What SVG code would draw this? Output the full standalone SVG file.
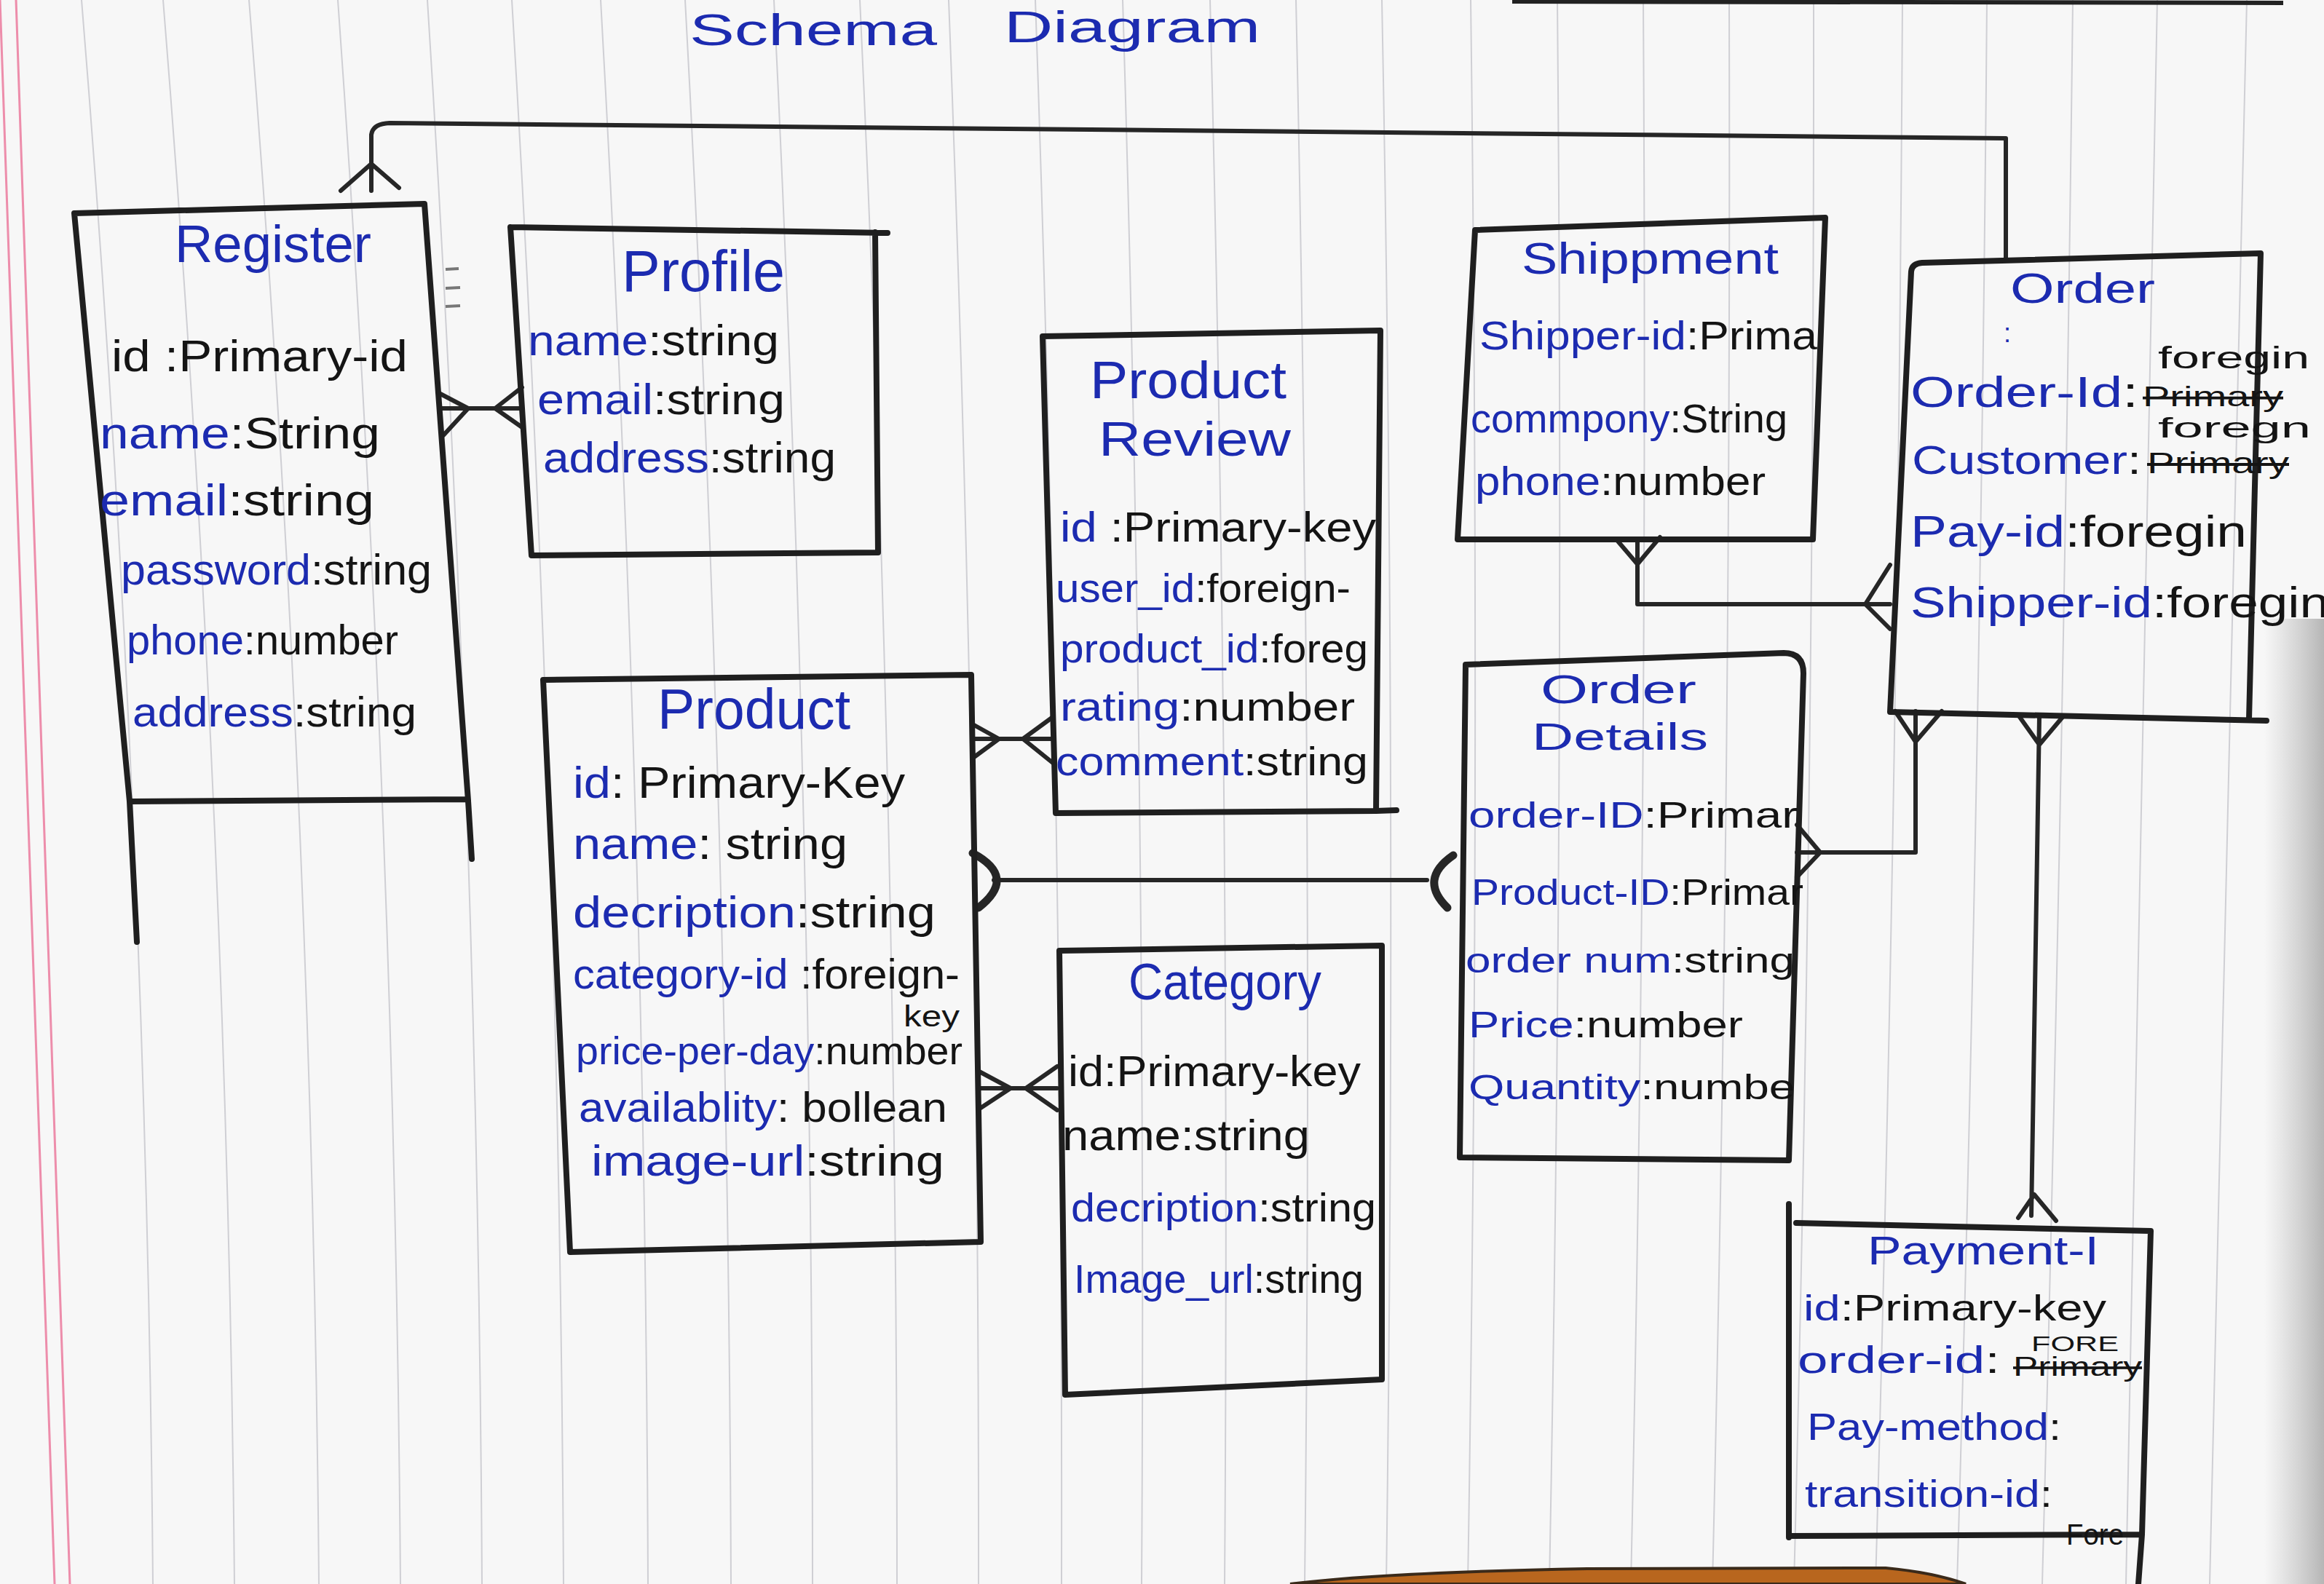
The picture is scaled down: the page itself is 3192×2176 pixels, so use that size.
<svg xmlns="http://www.w3.org/2000/svg" width="3192" height="2176" viewBox="0 0 3192 2176">
<defs>
<style>
.box{fill:none;stroke:#1f1f1f;stroke-width:8;stroke-linejoin:round;stroke-linecap:round}
.conn{fill:none;stroke:#262626;stroke-width:6;stroke-linecap:round;stroke-linejoin:round}
.bold{fill:none;stroke:#262626;stroke-width:11;stroke-linecap:round}
.grid{fill:none;stroke:#cfcfd4;stroke-width:2}
.pink{fill:none;stroke:#e8608a;stroke-width:3;opacity:0.7}
.t{font-family:"Liberation Sans",Arial,sans-serif;fill:#141414}
.b{fill:#1c2bb0}
.k{fill:#141414}
.strike{text-decoration:line-through}
</style>
<linearGradient id="shade" x1="0" y1="0" x2="1" y2="0">
<stop offset="0" stop-color="#9a9a9a" stop-opacity="0"/>
<stop offset="1" stop-color="#8a8a8a" stop-opacity="0.6"/>
</linearGradient>
</defs>
<rect width="3192" height="2176" fill="#f7f7f7"/>
<g id="paper">
<path class="grid" d="M112,0 Q201,1088 210,2176 M224,0 Q312,1088 322,2176 M342,0 Q429,1088 438,2176 M464,0 Q542,1088 550,2176 M587,0 Q656,1088 662,2176 M703,0 Q768,1088 774,2176 M825,0 Q886,1088 890,2176 M941,0 Q1000,1088 1004,2176 M1063,0 Q1116,1088 1116,2176 M1181,0 Q1232,1088 1232,2176 M1303,0 Q1345,1088 1344,2176 M1422,0 Q1460,1088 1458,2176 M1542,0 Q1575,1088 1568,2176 M1662,0 Q1690,1088 1682,2176 M1780,0 Q1804,1088 1792,2176 M1898,0 Q1919,1088 1904,2176 M2020,0 Q2034,1088 2016,2176 M2139,0 Q2149,1088 2128,2176 M2257,0 Q2264,1088 2240,2176 M2375,0 Q2378,1088 2352,2176 M2491,0 Q2492,1088 2464,2176 M2613,0 Q2607,1088 2576,2176 M2729,0 Q2720,1088 2688,2176 M2847,0 Q2834,1088 2805,2176 M2963,0 Q2946,1088 2920,2176 M3086,0 Q3062,1088 3035,2176"/>
<path class="pink" d="M0,0 L75,2176 M22,0 L96,2176"/>
<rect x="3110" y="850" width="82" height="1326" fill="url(#shade)"/>
<path d="M2077,2 L3136,4" stroke="#222" stroke-width="6" fill="none"/>
<path d="M1772,2176 Q1900,2160 2180,2155 L2590,2154 Q2655,2160 2700,2176 Z" fill="#b8661e" stroke="#3a2a1a" stroke-width="4"/>
<path d="M612,370 L630,369 M612,396 L632,395 M612,421 L632,420" stroke="#777" stroke-width="4" fill="none"/>
</g>
<g id="title">
<text class="t b" x="947" y="62" font-size="62" textLength="340" lengthAdjust="spacingAndGlyphs">Schema</text>
<text class="t b" x="1379" y="58" font-size="62" textLength="352" lengthAdjust="spacingAndGlyphs">Diagram</text>
</g>
<g id="connectors">
<path class="conn" d="M510,262 L510,185 Q512,170 535,169 L2755,190 L2755,357"/>
<path class="conn" d="M468,262 L510,225 L548,258"/>
<path class="conn" d="M605,561 L717,561 M601,539 L643,561 L609,598 M717,532 L680,561 L717,587"/>
<path class="conn" d="M1336,1015 L1446,1015 M1336,995 L1372,1015 L1338,1040 M1446,985 L1405,1015 L1446,1048"/>
<path class="conn" d="M1347,1495 L1452,1495 M1345,1472 L1388,1495 L1347,1522 M1452,1465 L1409,1495 L1452,1525"/>
<path class="conn" d="M1365,1209 L1960,1209"/>
<path class="bold" d="M1336,1172 Q1398,1205 1344,1247 M1996,1175 Q1948,1208 1988,1247"/>
<path class="conn" d="M2249,741 L2249,830 L2596,830 M2220,741 L2249,775 L2280,738 M2596,776 L2562,830 L2596,864"/>
<path class="conn" d="M2631,977 L2631,1171 L2468,1171 M2603,977 L2631,1019 L2667,977 M2468,1133 L2500,1171 L2468,1205"/>
<path class="conn" d="M2801,985 L2790,1670 M2774,985 L2801,1023 L2833,985 M2772,1673 L2794,1641 L2824,1677"/>
</g>
<g id="register">
<path class="box" d="M102,293 L583,280 L643,1100 L648,1180 M178,1101 L640,1098 M102,293 L178,1101 L188,1294"/>
<text class="t b" x="240" y="360" font-size="72" textLength="270" lengthAdjust="spacingAndGlyphs">Register</text>
<text class="t k" x="153" y="510" font-size="62" textLength="407" lengthAdjust="spacingAndGlyphs">id :Primary-id</text>
<text class="t" x="137" y="616" font-size="62" textLength="385" lengthAdjust="spacingAndGlyphs"><tspan class="b">name</tspan><tspan class="k">:String</tspan></text>
<text class="t" x="137" y="708" font-size="62" textLength="377" lengthAdjust="spacingAndGlyphs"><tspan class="b">email</tspan><tspan class="k">:string</tspan></text>
<text class="t" x="166" y="803" font-size="60" textLength="427" lengthAdjust="spacingAndGlyphs"><tspan class="b">password</tspan><tspan class="k">:string</tspan></text>
<text class="t" x="174" y="899" font-size="58" textLength="373" lengthAdjust="spacingAndGlyphs"><tspan class="b">phone</tspan><tspan class="k">:number</tspan></text>
<text class="t" x="182" y="998" font-size="58" textLength="390" lengthAdjust="spacingAndGlyphs"><tspan class="b">address</tspan><tspan class="k">:string</tspan></text>
</g>
<g id="profile">
<path class="box" d="M701,312 L1219,320 M1202,319 L1206,759 L730,763 L701,312"/>
<text class="t b" x="854" y="400" font-size="80" textLength="224" lengthAdjust="spacingAndGlyphs">Profile</text>
<text class="t" x="725" y="488" font-size="60" textLength="345" lengthAdjust="spacingAndGlyphs"><tspan class="b">name</tspan><tspan class="k">:string</tspan></text>
<text class="t" x="738" y="569" font-size="60" textLength="340" lengthAdjust="spacingAndGlyphs"><tspan class="b">email</tspan><tspan class="k">:string</tspan></text>
<text class="t" x="746" y="649" font-size="60" textLength="402" lengthAdjust="spacingAndGlyphs"><tspan class="b">address</tspan><tspan class="k">:string</tspan></text>
</g>
<g id="product">
<path class="box" d="M746,934 L1334,927 L1347,1706 L783,1720 Z"/>
<text class="t b" x="903" y="1001" font-size="78" textLength="265" lengthAdjust="spacingAndGlyphs">Product</text>
<text class="t" x="787" y="1096" font-size="62" textLength="456" lengthAdjust="spacingAndGlyphs"><tspan class="b">id</tspan><tspan class="k">: Primary-Key</tspan></text>
<text class="t" x="787" y="1180" font-size="62" textLength="377" lengthAdjust="spacingAndGlyphs"><tspan class="b">name</tspan><tspan class="k">: string</tspan></text>
<text class="t" x="787" y="1274" font-size="62" textLength="498" lengthAdjust="spacingAndGlyphs"><tspan class="b">decription</tspan><tspan class="k">:string</tspan></text>
<text class="t" x="787" y="1358" font-size="58" textLength="531" lengthAdjust="spacingAndGlyphs"><tspan class="b">category-id</tspan><tspan class="k"> :foreign-</tspan></text>
<text class="t k" x="1241" y="1410" font-size="40" textLength="77" lengthAdjust="spacingAndGlyphs">key</text>
<text class="t" x="791" y="1462" font-size="54" textLength="531" lengthAdjust="spacingAndGlyphs"><tspan class="b">price-per-day</tspan><tspan class="k">:number</tspan></text>
<text class="t" x="795" y="1541" font-size="58" textLength="506" lengthAdjust="spacingAndGlyphs"><tspan class="b">availablity</tspan><tspan class="k">: bollean</tspan></text>
<text class="t" x="812" y="1615" font-size="60" textLength="485" lengthAdjust="spacingAndGlyphs"><tspan class="b">image-url</tspan><tspan class="k">:string</tspan></text>
</g>
<g id="product-review">
<path class="box" d="M1432,462 L1896,454 L1890,1114 L1450,1117 Z M1890,1114 L1918,1113"/>
<text class="t b" x="1497" y="547" font-size="72" textLength="270" lengthAdjust="spacingAndGlyphs">Product</text>
<text class="t b" x="1509" y="626" font-size="66" textLength="264" lengthAdjust="spacingAndGlyphs">Review</text>
<text class="t" x="1456" y="744" font-size="58" textLength="434" lengthAdjust="spacingAndGlyphs"><tspan class="b">id</tspan><tspan class="k"> :Primary-key</tspan></text>
<text class="t" x="1450" y="827" font-size="56" textLength="405" lengthAdjust="spacingAndGlyphs"><tspan class="b">user_id</tspan><tspan class="k">:foreign-</tspan></text>
<text class="t" x="1456" y="910" font-size="56" textLength="423" lengthAdjust="spacingAndGlyphs"><tspan class="b">product_id</tspan><tspan class="k">:foreg</tspan></text>
<text class="t" x="1456" y="990" font-size="56" textLength="405" lengthAdjust="spacingAndGlyphs"><tspan class="b">rating</tspan><tspan class="k">:number</tspan></text>
<text class="t" x="1450" y="1065" font-size="56" textLength="429" lengthAdjust="spacingAndGlyphs"><tspan class="b">comment</tspan><tspan class="k">:string</tspan></text>
</g>
<g id="shippment">
<path class="box" d="M2026,316 L2507,299 L2490,741 L2002,741 Z"/>
<text class="t b" x="2090" y="376" font-size="62" textLength="353" lengthAdjust="spacingAndGlyphs">Shippment</text>
<text class="t" x="2032" y="480" font-size="56" textLength="464" lengthAdjust="spacingAndGlyphs"><tspan class="b">Shipper-id</tspan><tspan class="k">:Prima</tspan></text>
<text class="t" x="2020" y="594" font-size="56" textLength="435" lengthAdjust="spacingAndGlyphs"><tspan class="b">commpony</tspan><tspan class="k">:String</tspan></text>
<text class="t" x="2026" y="680" font-size="56" textLength="399" lengthAdjust="spacingAndGlyphs"><tspan class="b">phone</tspan><tspan class="k">:number</tspan></text>
</g>
<g id="order">
<path class="box" d="M2625,373 Q2626,362 2640,361 L3105,348 L3089,988 M2596,978 L3113,990 M2625,373 L2596,978"/>
<text class="t b" x="2761" y="416" font-size="58" textLength="199" lengthAdjust="spacingAndGlyphs">Order</text>
<text class="t b" x="2752" y="470" font-size="36">:</text>
<text class="t k" x="2964" y="506" font-size="42" textLength="208" lengthAdjust="spacingAndGlyphs">foregin</text>
<text class="t" x="2624" y="559" font-size="60" textLength="313" lengthAdjust="spacingAndGlyphs"><tspan class="b">Order-Id</tspan><tspan class="k">:</tspan></text>
<text class="t k strike" x="2943" y="558" font-size="38" textLength="193" lengthAdjust="spacingAndGlyphs">Primary</text>
<text class="t k" x="2964" y="601" font-size="38" textLength="210" lengthAdjust="spacingAndGlyphs">foregn</text>
<text class="t" x="2626" y="651" font-size="56" textLength="315" lengthAdjust="spacingAndGlyphs"><tspan class="b">Customer</tspan><tspan class="k">:</tspan></text>
<text class="t k strike" x="2949" y="650" font-size="40" textLength="195" lengthAdjust="spacingAndGlyphs">Primary</text>
<text class="t" x="2624" y="751" font-size="62" textLength="462" lengthAdjust="spacingAndGlyphs"><tspan class="b">Pay-id</tspan><tspan class="k">:foregin</tspan></text>
<text class="t" x="2624" y="848" font-size="60" textLength="575" lengthAdjust="spacingAndGlyphs"><tspan class="b">Shipper-id</tspan><tspan class="k">:foregin</tspan></text>
</g>
<g id="order-details">
<path class="box" d="M2013,913 L2450,897 Q2477,897 2477,925 L2457,1594 L2005,1590 Z"/>
<text class="t b" x="2116" y="966" font-size="56" textLength="214" lengthAdjust="spacingAndGlyphs">Order</text>
<text class="t b" x="2104" y="1030" font-size="52" textLength="242" lengthAdjust="spacingAndGlyphs">Details</text>
<text class="t" x="2017" y="1137" font-size="50" textLength="452" lengthAdjust="spacingAndGlyphs"><tspan class="b">order-ID</tspan><tspan class="k">:Primar</tspan></text>
<text class="t" x="2021" y="1243" font-size="50" textLength="456" lengthAdjust="spacingAndGlyphs"><tspan class="b">Product-ID</tspan><tspan class="k">:Primar</tspan></text>
<text class="t" x="2013" y="1336" font-size="48" textLength="452" lengthAdjust="spacingAndGlyphs"><tspan class="b">order num</tspan><tspan class="k">:string</tspan></text>
<text class="t" x="2017" y="1425" font-size="50" textLength="377" lengthAdjust="spacingAndGlyphs"><tspan class="b">Price</tspan><tspan class="k">:number</tspan></text>
<text class="t" x="2017" y="1510" font-size="48" textLength="448" lengthAdjust="spacingAndGlyphs"><tspan class="b">Quantity</tspan><tspan class="k">:numbe</tspan></text>
</g>
<g id="category">
<path class="box" d="M1455,1306 L1898,1299 L1898,1895 L1463,1916 Z"/>
<text class="t b" x="1550" y="1373" font-size="70" textLength="265" lengthAdjust="spacingAndGlyphs">Category</text>
<text class="t k" x="1467" y="1492" font-size="60" textLength="402" lengthAdjust="spacingAndGlyphs">id:Primary-key</text>
<text class="t k" x="1459" y="1580" font-size="60" textLength="340" lengthAdjust="spacingAndGlyphs">name:string</text>
<text class="t" x="1471" y="1678" font-size="56" textLength="419" lengthAdjust="spacingAndGlyphs"><tspan class="b">decription</tspan><tspan class="k">:string</tspan></text>
<text class="t" x="1475" y="1776" font-size="56" textLength="398" lengthAdjust="spacingAndGlyphs"><tspan class="b">Image_url</tspan><tspan class="k">:string</tspan></text>
</g>
<g id="payment">
<path class="box" d="M2457,1654 L2457,2112 M2467,1680 L2954,1691 L2942,2108 L2937,2176 M2457,2110 L2942,2108"/>
<text class="t b" x="2565" y="1737" font-size="56" textLength="318" lengthAdjust="spacingAndGlyphs">Payment-I</text>
<text class="t" x="2477" y="1814" font-size="50" textLength="416" lengthAdjust="spacingAndGlyphs"><tspan class="b">id</tspan><tspan class="k">:Primary-key</tspan></text>
<text class="t" x="2469" y="1886" font-size="52" textLength="278" lengthAdjust="spacingAndGlyphs"><tspan class="b">order-id</tspan><tspan class="k">:</tspan></text>
<text class="t k strike" x="2765" y="1890" font-size="36" textLength="177" lengthAdjust="spacingAndGlyphs">Primary</text>
<text class="t k" x="2790" y="1856" font-size="30" textLength="120" lengthAdjust="spacingAndGlyphs">FORE</text>
<text class="t" x="2482" y="1978" font-size="52" textLength="349" lengthAdjust="spacingAndGlyphs"><tspan class="b">Pay-method</tspan><tspan class="k">:</tspan></text>
<text class="t" x="2479" y="2070" font-size="52" textLength="340" lengthAdjust="spacingAndGlyphs"><tspan class="b">transition-id</tspan><tspan class="k">:</tspan></text>
<text class="t k" x="2838" y="2122" font-size="40" textLength="79" lengthAdjust="spacingAndGlyphs">Fore</text>
</g>
</svg>
